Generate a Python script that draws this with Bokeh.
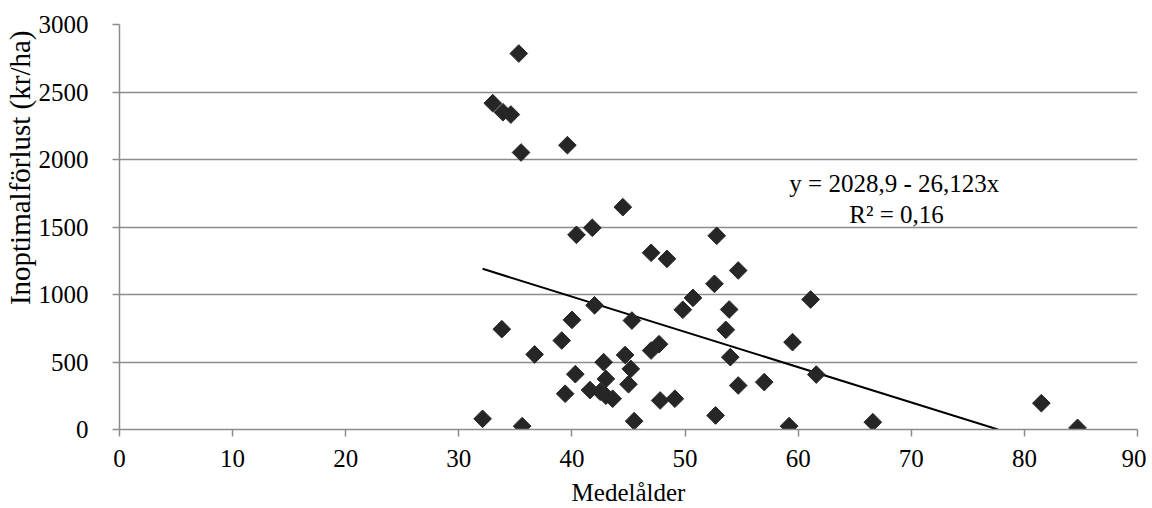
import numpy as np
from bokeh.plotting import figure
from bokeh.models import Label, FixedTicker, Range1d, Title
from bokeh.embed import file_html
from bokeh.resources import INLINE

# Data
medelalder = [32.1, 33.0, 33.9, 34.6, 35.3, 35.5, 33.8, 35.6, 36.7, 39.1,
              39.6, 39.4, 40.0, 40.4, 40.3, 41.8, 41.6, 42.0, 42.8, 42.5,
              43.0, 43.0, 43.6, 44.5, 44.7, 45.0, 45.2, 45.3, 45.5, 47.0,
              47.0, 47.7, 47.8, 48.4, 49.1, 49.8, 50.7, 52.6, 52.8, 52.7,
              53.6, 53.9, 54.0, 54.7, 54.7, 57.0, 59.2, 59.5, 61.1, 61.6,
              66.6, 81.5, 84.7]
forlust = [79, 2417, 2350, 2333, 2785, 2052, 743, 25, 556, 659,
           2106, 265, 812, 1442, 410, 1494, 292, 920, 499, 280,
           375, 250, 228, 1647, 552, 335, 449, 807, 62, 585,
           1309, 632, 215, 1264, 228, 887, 975, 1079, 1435, 104,
           738, 889, 536, 326, 1178, 351, 25, 647, 963, 407,
           54, 195, 12]
intercept = 2028.9
slope = -26.123
eq_text = ["y = 2028,9 - 26,123x", "R\u00b2 = 0,16"]
x_ticks = [0, 10, 20, 30, 40, 50, 60, 70, 80, 90]
y_ticks = [0, 500, 1000, 1500, 2000, 2500, 3000]
x_label = "Medelålder"
y_label = "Inoptimalförlust (kr/ha)"

FONT = "Liberation Serif"
FS = "25px"
GRID = "#8c8c8c"

p = figure(width=1146, height=508, output_backend="svg", toolbar_location=None,
           x_range=Range1d(0, 90), y_range=Range1d(0, 3000),
           min_border_left=119, min_border_right=9, min_border_top=24, min_border_bottom=79)
p.outline_line_color = None
p.background_fill_color = "white"
p.border_fill_color = "white"

p.xgrid.visible = False
p.ygrid.grid_line_color = GRID
p.ygrid.grid_line_width = 1.5
p.ygrid.ticker = FixedTicker(ticks=y_ticks)

for ax in (p.xaxis[0], p.yaxis[0]):
    ax.axis_line_color = GRID
    ax.axis_line_width = 1.5
    ax.major_tick_line_color = GRID
    ax.major_tick_line_width = 1.5
    ax.major_tick_out = 7
    ax.major_tick_in = 0
    ax.minor_tick_line_color = None
    ax.major_label_text_font = FONT
    ax.major_label_text_font_size = FS
    ax.major_label_text_color = "black"

p.xaxis.ticker = FixedTicker(ticks=x_ticks)
p.yaxis.ticker = FixedTicker(ticks=y_ticks)
p.xaxis.major_label_standoff = 13
p.yaxis.major_label_standoff = 24
p.xaxis.axis_label = x_label
p.xaxis.axis_label_text_font = FONT
p.xaxis.axis_label_text_font_size = FS
p.xaxis.axis_label_text_font_style = "normal"
p.xaxis.axis_label_text_color = "black"
p.xaxis.axis_label_standoff = 9

# Y axis title, shifted toward the top as in the reference
p.add_layout(Title(text=y_label, align="right", offset=6, text_font=FONT,
                   text_font_size="29px", text_font_style="normal", text_color="black",
                   standoff=0), "left")

# Trendline (computed from regression coefficients, clipped at y=0)
x0 = min(medelalder)
x1 = min(max(medelalder), -intercept / slope)
p.line([x0, x1], [intercept + slope * x0, intercept + slope * x1],
       line_color="black", line_width=2)

p.scatter(medelalder, forlust, marker="square", angle=np.pi / 4, size=12.5,
          fill_color="#262626", line_color="#262626")

# Equation labels
p.add_layout(Label(x=68.5, y=1822, text=eq_text[0], text_font=FONT, text_font_size=FS,
                   text_align="center", text_baseline="middle", text_color="black"))
p.add_layout(Label(x=68.7, y=1595, text=eq_text[1], text_font=FONT, text_font_size=FS,
                   text_align="center", text_baseline="middle", text_color="black"))

open("out.html", "w").write(file_html(p, INLINE))
